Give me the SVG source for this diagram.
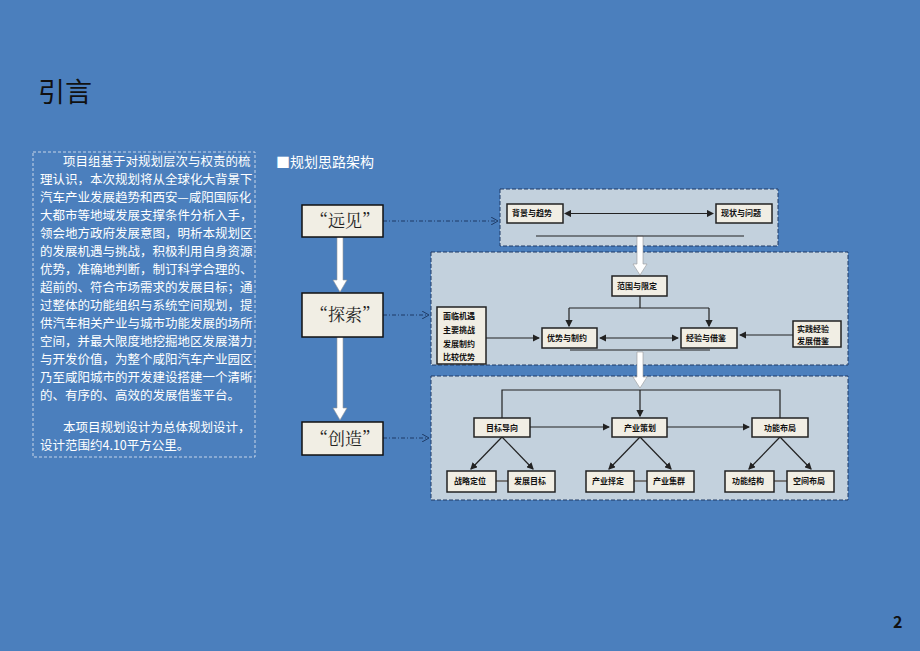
<svg xmlns="http://www.w3.org/2000/svg" width="920" height="651" viewBox="0 0 920 651">
<style>
text{font-family:"Noto Sans CJK SC","Liberation Sans",sans-serif}
.body{font-family:"Noto Serif CJK SC","Noto Sans CJK SC",serif;font-size:12.5px;fill:#fff}
.panel{fill:#c3d1dd;stroke:#1f3b66;stroke-dasharray:4 2;stroke-width:1}
.n{fill:#f1eee4;stroke:#222;stroke-width:1.5}
.s{font-size:8px;font-weight:bold;fill:#111}
.big{fill:#f1eee4;stroke:#111;stroke-width:1.5}
.bt{font-size:17px;fill:#222;font-family:"Noto Serif CJK SC",serif}
.l{stroke:#222;stroke-width:1.2;fill:none}
.g{stroke:#777;stroke-width:2;fill:none}
.d{stroke:#1f3b66;stroke-dasharray:4 2 1 2;stroke-width:1;fill:none}
</style>
<defs>
<marker id="a" markerWidth="6" markerHeight="6" refX="5" refY="3" orient="auto-start-reverse"><path d="M0,0L6,3L0,6z" fill="#222"/></marker>
<marker id="o" markerWidth="8" markerHeight="8" refX="6" refY="4" orient="auto"><path d="M0,0L7,4L0,8" fill="none" stroke="#1f3b66"/></marker>
</defs>
<rect width="920" height="651" fill="#4b7fbd"/>
<text x="38" y="102" font-size="27" fill="#111">引言</text>
<rect x="33" y="152" width="222" height="305" fill="none" stroke="#c8d6e8" stroke-dasharray="3 2"/>
<g class="body">
<text x="63" y="166">项目组基于对规划层次与权责的梳</text>
<text x="40" y="184">理认识，本次规划将从全球化大背景下</text>
<text x="40" y="202">汽车产业发展趋势和西安—咸阳国际化</text>
<text x="40" y="220">大都市等地域发展支撑条件分析入手，</text>
<text x="40" y="238">领会地方政府发展意图，明析本规划区</text>
<text x="40" y="256">的发展机遇与挑战，积极利用自身资源</text>
<text x="40" y="274">优势，准确地判断，制订科学合理的、</text>
<text x="40" y="292">超前的、符合市场需求的发展目标；通</text>
<text x="40" y="310">过整体的功能组织与系统空间规划，提</text>
<text x="40" y="328">供汽车相关产业与城市功能发展的场所</text>
<text x="40" y="346">空间，并最大限度地挖掘地区发展潜力</text>
<text x="40" y="364">与开发价值，为整个咸阳汽车产业园区</text>
<text x="40" y="382">乃至咸阳城市的开发建设搭建一个清晰</text>
<text x="40" y="400">的、有序的、高效的发展借鉴平台。</text>
<text x="63" y="432">本项目规划设计为总体规划设计，</text>
<text x="40" y="450">设计范围约4.10平方公里。</text>
</g>
<text x="276" y="167" font-size="14" fill="#fff">■规划思路架构</text>
<text x="893" y="628" font-size="16" font-weight="bold" fill="#111" font-family="Liberation Sans,sans-serif">2</text>

<rect class="panel" x="500" y="189" width="278" height="57"/>
<rect class="panel" x="431" y="252" width="417" height="113"/>
<rect class="panel" x="431" y="376" width="417" height="124"/>

<g id="connectors">
<path class="d" d="M383,221H497" marker-end="url(#o)"/>
<path class="d" d="M383,315H428" marker-end="url(#o)"/>
<path class="d" d="M383,438H428" marker-end="url(#o)"/>
<path d="M337,237V280h-4l7,12l7,-12h-4V237z" fill="#fff" stroke="#999" stroke-width="0.6"/>
<path d="M337,337V408h-4l7,12l7,-12h-4V337z" fill="#fff" stroke="#999" stroke-width="0.6"/>
<path d="M637,236V264h-4l7,11l7,-11h-4V236z" fill="#fff" stroke="#999" stroke-width="0.6"/>
<path d="M637,352V377h-4l7,11l7,-11h-4V352z" fill="#fff" stroke="#999" stroke-width="0.6"/>
<path class="l" d="M565,213.5H713" marker-start="url(#a)" marker-end="url(#a)"/>
<path class="l" d="M536,236H744"/>
<path class="l" d="M640,296V308H569M640,308H709"/>
<path class="l" d="M569,308V326" marker-end="url(#a)"/>
<path class="l" d="M709,308V326" marker-end="url(#a)"/>
<path class="l" d="M486,338H539" marker-end="url(#a)"/>
<path class="l" d="M600,338H678" marker-start="url(#a)" marker-end="url(#a)"/>
<path class="l" stroke="#666" d="M793,335H740" marker-end="url(#a)"/>
<path class="l" d="M570,350H710"/>
<path class="l" stroke-width="1.5" d="M502,418V390H780V418"/>
<path class="l" d="M640,390V416" marker-end="url(#a)"/>
<path class="l" d="M530,427H609" marker-end="url(#a)"/>
<path class="l" d="M667,427H749" marker-end="url(#a)"/>
<path class="l" d="M502,437L533,469" marker-end="url(#a)"/>
<path class="l" d="M640,437L671,469" marker-end="url(#a)"/>
<path class="l" d="M780,437L811,469" marker-end="url(#a)"/>
<path class="l" d="M502,437L471,469" marker-end="url(#a)"/>
<path class="l" d="M640,437L609,469" marker-end="url(#a)"/>
<path class="l" d="M780,437L749,469" marker-end="url(#a)"/>
<path class="g" d="M496,481H508M634,481H647M774,481H787"/>
</g>

<g id="yuanjian"><rect class="big" x="302" y="205" width="81" height="32"/><text class="bt" x="311" y="227">“远见”</text></g>
<g id="tansuo"><rect class="big" x="302" y="293" width="81" height="44"/><text class="bt" x="311" y="321">“探索”</text></g>
<g id="chuangzao"><rect class="big" x="302" y="422" width="81" height="33"/><text class="bt" x="311" y="445">“创造”</text></g>

<g id="n1"><rect class="n" x="507" y="204" width="56" height="19"/><text class="s" x="512" y="216">背景与趋势</text></g>
<g id="n2"><rect class="n" x="716" y="204" width="56" height="19"/><text class="s" x="721" y="216">现状与问题</text></g>
<g id="n3"><rect class="n" x="612" y="276" width="55" height="20"/><text class="s" x="617" y="289">范围与限定</text></g>
<g id="n4"><rect class="n" x="542" y="328" width="55" height="20"/><text class="s" x="547" y="341">优势与制约</text></g>
<g id="n5"><rect class="n" x="681" y="328" width="56" height="20"/><text class="s" x="686" y="341">经验与借鉴</text></g>
<g id="n6"><rect class="n" x="437" y="307" width="49" height="57" stroke="#555" stroke-width="1"/><text class="s" x="443" y="319">面临机遇</text><text class="s" x="443" y="333">主要挑战</text><text class="s" x="443" y="347">发展制约</text><text class="s" x="443" y="360">比较优势</text></g>
<g id="n7"><rect class="n" x="793" y="321" width="48" height="26" stroke="#555" stroke-width="1"/><text class="s" x="797" y="332">实践经验</text><text class="s" x="797" y="344">发展借鉴</text></g>
<g id="n8"><rect class="n" x="474" y="418" width="56" height="19"/><text class="s" x="486" y="431">目标导向</text></g>
<g id="n9"><rect class="n" x="612" y="418" width="55" height="19"/><text class="s" x="624" y="431">产业策划</text></g>
<g id="n10"><rect class="n" x="752" y="418" width="56" height="19"/><text class="s" x="764" y="431">功能布局</text></g>
<g id="l1"><rect class="n" x="447" y="471" width="49" height="21" stroke-width="1"/><text class="s" x="454" y="484">战略定位</text></g>
<g id="l2"><rect class="n" x="508" y="471" width="47" height="21" stroke-width="1"/><text class="s" x="514" y="484">发展目标</text></g>
<g id="l3"><rect class="n" x="586" y="471" width="48" height="21" stroke-width="1"/><text class="s" x="592" y="484">产业择定</text></g>
<g id="l4"><rect class="n" x="647" y="471" width="47" height="21" stroke-width="1"/><text class="s" x="653" y="484">产业集群</text></g>
<g id="l5"><rect class="n" x="725" y="471" width="49" height="21" stroke-width="1"/><text class="s" x="732" y="484">功能结构</text></g>
<g id="l6"><rect class="n" x="787" y="471" width="47" height="21" stroke-width="1"/><text class="s" x="793" y="484">空间布局</text></g>
</svg>
